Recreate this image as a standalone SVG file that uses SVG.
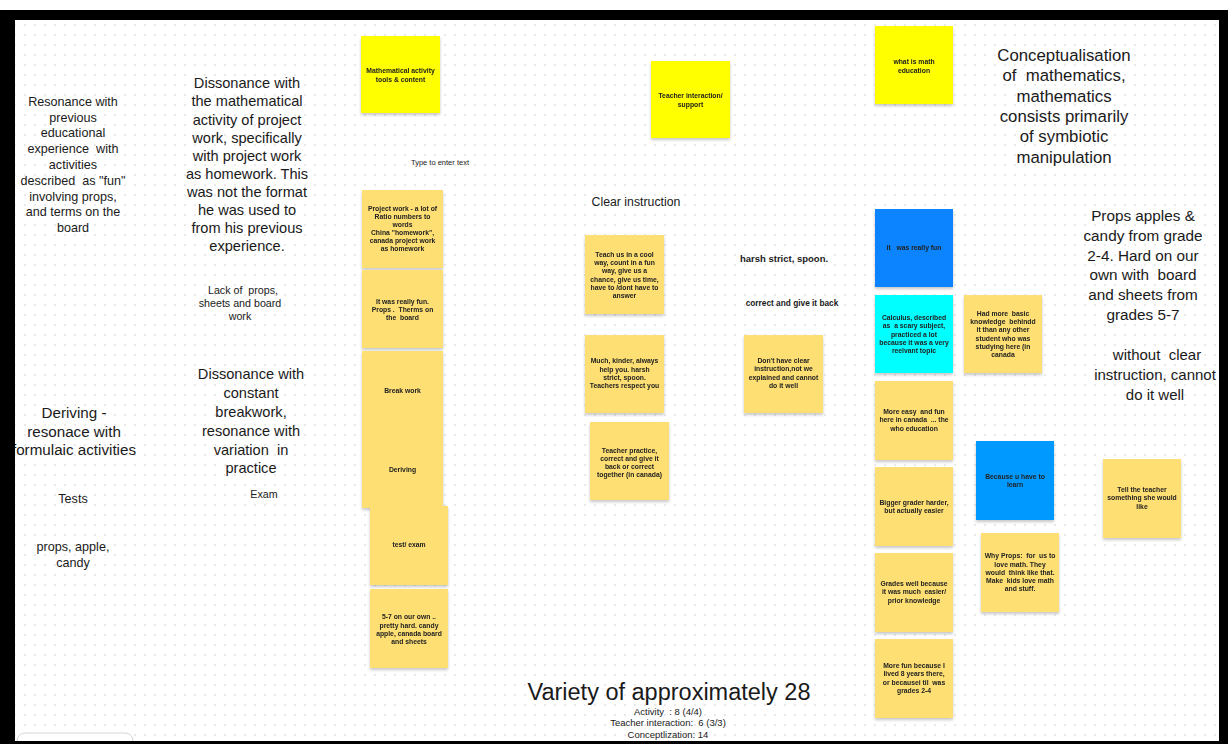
<svg xmlns="http://www.w3.org/2000/svg" width="1228" height="744" viewBox="0 0 1228 744">
<style>
text{white-space:pre}
.t{font-family:"Liberation Sans",Arial,sans-serif;fill:#1a1a1a;text-anchor:middle}
.n{font-family:"Liberation Sans",Arial,sans-serif;font-weight:bold;font-size:6.8px;fill:#222;text-anchor:middle}
.b{font-family:"Liberation Sans",Arial,sans-serif;font-weight:bold;fill:#1a1a1a;text-anchor:middle}
.y{fill:#ffff00}
.p{fill:#fedf73}
.bl{fill:#0a84ff}
.bl2{fill:#0099ff}
.cy{fill:#00ffff}
.note{filter:url(#sh)}
</style>
<defs>
<pattern id="dots" x="0" y="0" width="10" height="10" patternUnits="userSpaceOnUse">
<circle cx="5" cy="5" r="0.8" fill="#cdcdcd"/>
</pattern>
<filter id="sh" x="-10%" y="-10%" width="120%" height="125%">
<feDropShadow dx="0" dy="2" stdDeviation="1.5" flood-color="#000" flood-opacity="0.22"/>
</filter>
</defs>
<rect x="0" y="0" width="1228" height="744" fill="#ffffff"/>
<rect x="15" y="20" width="1204" height="721" fill="url(#dots)"/>

<g id="txt-resonance">
<text class="t" font-size="12.6" x="73" y="106">Resonance with</text>
<text class="t" font-size="12.6" x="73" y="122">previous</text>
<text class="t" font-size="12.6" x="73" y="137">educational</text>
<text class="t" font-size="12.6" x="73" y="153">experience  with</text>
<text class="t" font-size="12.6" x="73" y="169">activities</text>
<text class="t" font-size="12.6" x="73" y="185">described  as "fun"</text>
<text class="t" font-size="12.6" x="73" y="201">involving props,</text>
<text class="t" font-size="12.6" x="73" y="216">and terms on the</text>
<text class="t" font-size="12.6" x="73" y="232">board</text>
</g>
<g id="txt-dissonance1">
<text class="t" font-size="14.6" x="247" y="88">Dissonance with</text>
<text class="t" font-size="14.6" x="247" y="106">the mathematical</text>
<text class="t" font-size="14.6" x="247" y="125">activity of project</text>
<text class="t" font-size="14.6" x="247" y="143">work, specifically</text>
<text class="t" font-size="14.6" x="247" y="161">with project work</text>
<text class="t" font-size="14.6" x="247" y="179">as homework. This</text>
<text class="t" font-size="14.6" x="247" y="197">was not the format</text>
<text class="t" font-size="14.6" x="247" y="215">he was used to</text>
<text class="t" font-size="14.6" x="247" y="233">from his previous</text>
<text class="t" font-size="14.6" x="247" y="251">experience.</text>
</g>
<g id="txt-lack">
<text class="t" font-size="10.7" x="243" y="294">Lack of  props,</text>
<text class="t" font-size="10.7" x="240" y="307">sheets and board</text>
<text class="t" font-size="10.7" x="240" y="320">work</text>
</g>
<g id="txt-dissonance2">
<text class="t" font-size="14.6" x="251" y="379">Dissonance with</text>
<text class="t" font-size="14.6" x="251" y="398">constant</text>
<text class="t" font-size="14.6" x="251" y="417">breakwork,</text>
<text class="t" font-size="14.6" x="251" y="436">resonance with</text>
<text class="t" font-size="14.6" x="251" y="455">variation  in</text>
<text class="t" font-size="14.6" x="251" y="473">practice</text>
</g>
<text id="txt-exam" class="t" font-size="10.7" x="264" y="498">Exam</text>
<g id="txt-deriving">
<text class="t" font-size="15.2" x="74" y="418">Deriving -</text>
<text class="t" font-size="15.2" x="74" y="437">resonace with</text>
<text class="t" font-size="15.2" x="74" y="455">formulaic activities</text>
</g>
<text id="txt-tests" class="t" font-size="12.6" x="73" y="503">Tests</text>
<g id="txt-props">
<text class="t" font-size="12.6" x="73" y="551">props, apple,</text>
<text class="t" font-size="12.6" x="73" y="567">candy</text>
</g>
<text id="txt-type" class="t" font-size="7.5" x="440" y="165">Type to enter text</text>
<text id="txt-clear" class="t" font-size="12.3" x="636" y="206">Clear instruction</text>
<text id="txt-harsh" class="b" font-size="9.5" x="784" y="262">harsh strict, spoon.</text>
<text id="txt-correct" class="b" font-size="8.3" x="792" y="306">correct and give it back</text>

<g id="txt-concept">
<text class="t" font-size="16.8" x="1064" y="61">Conceptualisation</text>
<text class="t" font-size="16.8" x="1064" y="81">of  mathematics,</text>
<text class="t" font-size="16.8" x="1064" y="102">mathematics</text>
<text class="t" font-size="16.8" x="1064" y="122">consists primarily</text>
<text class="t" font-size="16.8" x="1064" y="142">of symbiotic</text>
<text class="t" font-size="16.8" x="1064" y="163">manipulation</text>
</g>
<g id="txt-propsapples">
<text class="t" font-size="15.3" x="1143" y="221">Props apples &amp;</text>
<text class="t" font-size="15.3" x="1143" y="241">candy from grade</text>
<text class="t" font-size="15.3" x="1143" y="261">2-4. Hard on our</text>
<text class="t" font-size="15.3" x="1143" y="280">own with  board</text>
<text class="t" font-size="15.3" x="1143" y="300">and sheets from</text>
<text class="t" font-size="15.3" x="1143" y="320">grades 5-7</text>
</g>
<g id="txt-without">
<text class="t" font-size="15" x="1157" y="360">without  clear</text>
<text class="t" font-size="15" x="1155" y="380">instruction, cannot</text>
<text class="t" font-size="15" x="1155" y="400">do it well</text>
</g>
<g id="txt-variety">
<text class="t" font-size="23.5" x="669" y="700">Variety of approximately 28</text>
<text class="t" font-size="9.5" x="668" y="715">Activity  : 8 (4/4)</text>
<text class="t" font-size="9.5" x="668" y="726">Teacher interaction:  6 (3/3)</text>
<text class="t" font-size="9.5" x="668" y="738">Conceptlization: 14</text>
</g>

<g id="n-math-activity" class="note"><rect class="y" x="361" y="36" width="79" height="77"/>
<text class="n" x="400.5" y="73">Mathematical activity</text><text class="n" x="400.5" y="82">tools &amp; content</text></g>
<g id="n-teacher-interaction" class="note"><rect class="y" x="651" y="61" width="79" height="77"/>
<text class="n" x="690.5" y="98">Teacher interaction/</text><text class="n" x="690.5" y="107">support</text></g>
<g id="n-what-is" class="note"><rect class="y" x="875" y="26" width="78" height="78"/>
<text class="n" x="914" y="64">what is math</text><text class="n" x="914" y="73">education</text></g>

<g id="n-project" class="note"><rect class="p" x="362" y="190" width="81" height="78"/>
<text class="n" x="402.5" y="211">Project work - a lot of</text>
<text class="n" x="402.5" y="219">Ratio numbers to</text>
<text class="n" x="402.5" y="227">words</text>
<text class="n" x="402.5" y="235">China "homework",</text>
<text class="n" x="402.5" y="243">canada project work</text>
<text class="n" x="402.5" y="251">as homework</text></g>
<g id="n-fun" class="note"><rect class="p" x="362" y="270" width="81" height="78"/>
<text class="n" x="402.5" y="304">It was really fun.</text>
<text class="n" x="402.5" y="312">Props .  Therms on</text>
<text class="n" x="402.5" y="320">the  board</text></g>
<g id="n-break" class="note"><rect class="p" x="362" y="351" width="81" height="79"/>
<text class="n" x="402.5" y="393">Break work</text></g>
<g id="n-deriving" class="note"><rect class="p" x="362" y="430" width="81" height="78"/>
<text class="n" x="402.5" y="472">Deriving</text></g>
<g id="n-test" class="note"><rect class="p" x="370" y="506" width="78" height="79"/>
<text class="n" x="409" y="547">test/ exam</text></g>
<g id="n-57" class="note"><rect class="p" x="370" y="589" width="78" height="79"/>
<text class="n" x="409" y="619">5-7 on our own ..</text>
<text class="n" x="409" y="628">pretty hard. candy</text>
<text class="n" x="409" y="636">apple, canada board</text>
<text class="n" x="409" y="644">and sheets</text></g>

<g id="n-teach" class="note"><rect class="p" x="585" y="235" width="79" height="79"/>
<text class="n" x="624.5" y="257">Teach us in a cool</text>
<text class="n" x="624.5" y="265">way, count in a fun</text>
<text class="n" x="624.5" y="273">way, give us a</text>
<text class="n" x="624.5" y="282">chance, give us time,</text>
<text class="n" x="624.5" y="290">have to /dont have to</text>
<text class="n" x="624.5" y="298">answer</text></g>
<g id="n-much" class="note"><rect class="p" x="585" y="335" width="79" height="78"/>
<text class="n" x="624.5" y="363">Much, kinder, always</text>
<text class="n" x="624.5" y="372">help you. harsh</text>
<text class="n" x="624.5" y="380">strict, spoon.</text>
<text class="n" x="624.5" y="388">Teachers respect you</text></g>
<g id="n-practice" class="note"><rect class="p" x="590" y="422" width="79" height="78"/>
<text class="n" x="629.5" y="453">Teacher practice,</text>
<text class="n" x="629.5" y="461">correct and give it</text>
<text class="n" x="629.5" y="469">back or correct</text>
<text class="n" x="629.5" y="477">together (in canada)</text></g>
<g id="n-dont" class="note"><rect class="p" x="744" y="335" width="79" height="78"/>
<text class="n" x="783.5" y="363">Don't have clear</text>
<text class="n" x="783.5" y="371">instruction,not we</text>
<text class="n" x="783.5" y="380">explained and cannot</text>
<text class="n" x="783.5" y="388">do it well</text></g>

<g id="n-really-fun" class="note"><rect class="bl" x="875" y="209" width="78" height="78"/>
<text class="n" x="914" y="250">it   was really fun</text></g>
<g id="n-calculus" class="note"><rect class="cy" x="875" y="295" width="78" height="78"/>
<text class="n" x="914" y="320">Calculus, described</text>
<text class="n" x="914" y="328">as  a scary subject,</text>
<text class="n" x="914" y="337">practiced a lot</text>
<text class="n" x="914" y="345">because it was a very</text>
<text class="n" x="914" y="353">reelvant topic</text></g>
<g id="n-had-more" class="note"><rect class="p" x="964" y="295" width="78" height="78"/>
<text class="n" x="1003" y="316">Had more  basic</text>
<text class="n" x="1003" y="324">knowledge  behindd</text>
<text class="n" x="1003" y="332">it than any other</text>
<text class="n" x="1003" y="341">student who was</text>
<text class="n" x="1003" y="349">studying here (in</text>
<text class="n" x="1003" y="357">canada</text></g>
<g id="n-more-easy" class="note"><rect class="p" x="875" y="381" width="78" height="79"/>
<text class="n" x="914" y="414">More easy  and fun</text>
<text class="n" x="914" y="422">here in canada  ... the</text>
<text class="n" x="914" y="431">who education</text></g>
<g id="n-because" class="note"><rect class="bl2" x="976" y="441" width="78" height="79"/>
<text class="n" x="1015" y="479">Because u have to</text>
<text class="n" x="1015" y="487">learn</text></g>
<g id="n-bigger" class="note"><rect class="p" x="875" y="467" width="78" height="79"/>
<text class="n" x="914" y="505">Bigger grader harder,</text>
<text class="n" x="914" y="513">but actually easier</text></g>
<g id="n-why-props" class="note"><rect class="p" x="981" y="533" width="78" height="79"/>
<text class="n" x="1020" y="558">Why Props:  for  us to</text>
<text class="n" x="1020" y="567">love math. They</text>
<text class="n" x="1020" y="575">would  think like that.</text>
<text class="n" x="1020" y="583">Make  kids love math</text>
<text class="n" x="1020" y="591">and stuff.</text></g>
<g id="n-grades" class="note"><rect class="p" x="875" y="553" width="78" height="79"/>
<text class="n" x="914" y="586">Grades well because</text>
<text class="n" x="914" y="594">it was much  easier/</text>
<text class="n" x="914" y="603">prior knowledge</text></g>
<g id="n-more-fun" class="note"><rect class="p" x="875" y="639" width="78" height="79"/>
<text class="n" x="914" y="668">More fun because I</text>
<text class="n" x="914" y="676">lived 8 years there,</text>
<text class="n" x="914" y="685">or becausei til  was</text>
<text class="n" x="914" y="693">grades 2-4</text></g>
<g id="n-tell" class="note"><rect class="p" x="1103" y="459" width="78" height="79"/>
<text class="n" x="1142" y="492">Tell the teacher</text>
<text class="n" x="1142" y="500">something she would</text>
<text class="n" x="1142" y="509">like</text></g>

<g id="connectors"></g>

<rect x="17" y="733" width="116" height="30" rx="8" fill="#fff" stroke="#d6d6d6" stroke-width="1"/>

<g id="frame" fill="#000">
<rect x="0" y="10" width="1228" height="10"/>
<rect x="0" y="10" width="15" height="734"/>
<rect x="1219" y="10" width="9" height="734"/>
<rect x="0" y="741" width="1228" height="3"/>
</g>
</svg>
